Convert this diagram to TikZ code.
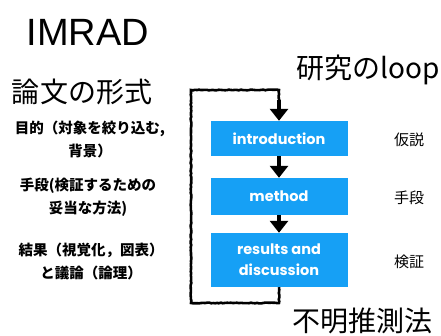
\documentclass[tikz,border=0pt]{standalone}
\usepackage{fontspec}
\setmainfont{Noto Sans CJK JP}
\newfontfamily\latinfont{Liberation Sans}
\newfontfamily\boxfont{Poppins}
\usetikzlibrary{arrows.meta,positioning,decorations.pathmorphing}
\definecolor{boxblue}{RGB}{22,160,245}

\begin{document}
\begin{tikzpicture}
[
	              x = 1pt, y = -1pt,
	      box/.style = { fill=boxblue, draw=none, minimum width=137pt, text=white, align=center,
	                     font=\boxfont\bfseries\fontsize{14.5}{21}\selectfont },
	    title/.style = { font=\fontsize{28}{30}\selectfont },
	     note/.style = { align=center, font=\bfseries\fontsize{14.5}{23}\selectfont },
	     side/.style = { font=\fontsize{15}{18}\selectfont },
	 backline/.style = { draw=black, line width=2.6pt,
	                     decorate, decoration={random steps, segment length=2pt, amplitude=0.4pt} },
	     flow/.style = { draw=black, line width=3.5pt,
	                     arrows={-Triangle[width=18pt,length=12pt]} }
]

    \useasboundingbox (0,0) rectangle (441,336);

    % titles
    \node (Imrad)        at ( 88, 32) {\latinfont\fontsize{38}{40}\selectfont IMRAD};
    \node (PaperForm)    at ( 82, 92) [title]  {論文の形式};
    \node (ResearchLoop) at (368, 70) [title]  {研究のloop};
    \node (Abduction)    at (362,321) [title]  {不明推測法};

    % left notes
    \node (PurposeNote)  at ( 90,139) [note]   {目的（対象を絞り込む,\\背景）};
    \node (MeansNote)    at ( 88,197) [note]   {手段(検証するための\\妥当な方法)};
    \node (ResultNote)   at ( 91,261) [note]   {結果（視覚化，図表）\\と議論（論理）};

    % the three sections
    \node (Intro)        at (279,138.5) [box, minimum height=35pt] {introduction};
    \node (Method)       at (279,196.5) [box, minimum height=37pt] {method};
    \node (Results)      at (279,260)   [box, minimum height=54pt] {results and\\discussion};

    % right labels
    \node (Hypothesis)   at (409,140) [side] {仮説};
    \node (Means)        at (409,198) [side] {手段};
    \node (Verify)       at (409,262) [side] {検証};

    % the loop back
    \coordinate (LoopSE) at (279,303);
    \coordinate (LoopSW) at (191,303);
    \coordinate (LoopNW) at (191, 90);
    \coordinate (LoopNE) at (279, 90);

    \draw[backline] (Results.south) -- (LoopSE) -- (LoopSW) -- (LoopNW) -- (LoopNE) -- (279,102);
    \draw[flow] (279,100) -- (Intro.north);
    \draw[flow] (Intro.south) -- (Method.north);
    \draw[flow] (Method.south) -- (Results.north);

\end{tikzpicture}
\end{document}
